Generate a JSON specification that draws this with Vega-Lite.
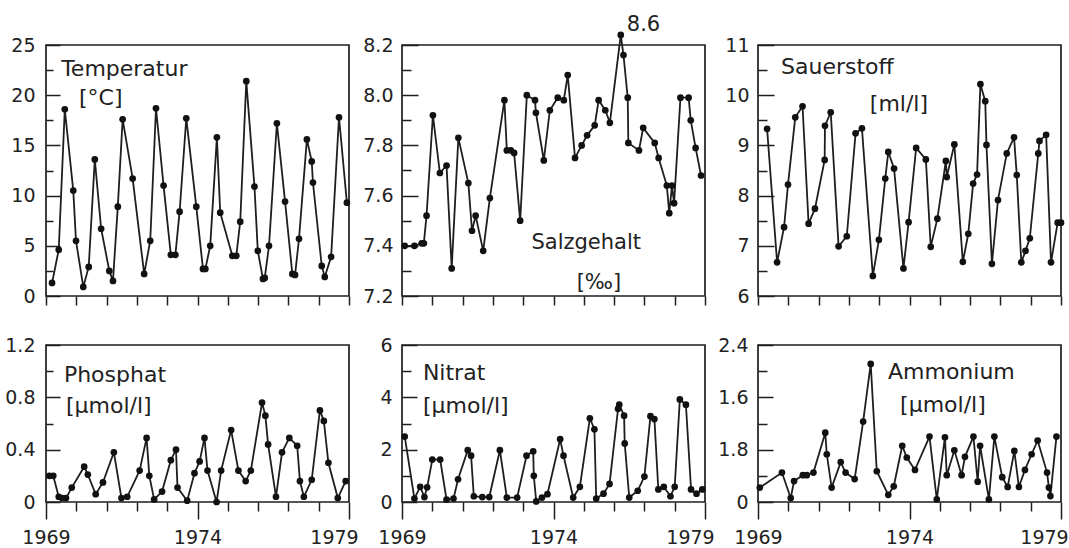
{
  "$schema": "https://vega.github.io/schema/vega-lite/v6.json",
  "background": "white",
  "padding": {"left": 3, "top": 13, "right": 0, "bottom": 0},
  "bounds": "flush",
  "spacing": {"row": 49, "column": 53},
  "columns": 3,
  "config": {
    "font": "DejaVu Sans",
    "view": {"stroke": "#1e1e1e", "strokeWidth": 1.7},
    "axis": {"labelFont": "DejaVu Sans", "labelFontSize": 19, "labelColor": "#222", "ticks": true, "tickColor": "#1e1e1e", "tickWidth": 1.5, "tickOpacity": 1, "domain": false, "grid": false, "title": null, "labelOverlap": false, "labelFlush": false},
    "line": {"color": "#1e1e1e", "strokeWidth": 1.8},
    "point": {"color": "#111", "filled": true, "size": 45, "opacity": 1},
    "text": {"font": "DejaVu Sans", "fontSize": 22, "color": "#222"}
  },
  "datasets": {
    "temp": [
      {"year": 1969.20, "value": 1.3}, {"year": 1969.42, "value": 4.6}, {"year": 1969.62, "value": 18.6}, {"year": 1969.90, "value": 10.5}, {"year": 1969.99, "value": 5.5},
      {"year": 1970.23, "value": 0.9}, {"year": 1970.41, "value": 2.9}, {"year": 1970.61, "value": 13.6}, {"year": 1970.82, "value": 6.7}, {"year": 1971.09, "value": 2.5},
      {"year": 1971.21, "value": 1.5}, {"year": 1971.37, "value": 8.9}, {"year": 1971.53, "value": 17.6}, {"year": 1971.86, "value": 11.7}, {"year": 1972.24, "value": 2.2},
      {"year": 1972.44, "value": 5.5}, {"year": 1972.63, "value": 18.7}, {"year": 1972.88, "value": 11.0}, {"year": 1973.12, "value": 4.1}, {"year": 1973.27, "value": 4.1},
      {"year": 1973.41, "value": 8.4}, {"year": 1973.63, "value": 17.7}, {"year": 1973.96, "value": 8.9}, {"year": 1974.18, "value": 2.7}, {"year": 1974.26, "value": 2.7},
      {"year": 1974.42, "value": 5.0}, {"year": 1974.64, "value": 15.8}, {"year": 1974.75, "value": 8.3}, {"year": 1975.15, "value": 4.0}, {"year": 1975.28, "value": 4.0},
      {"year": 1975.41, "value": 7.4}, {"year": 1975.61, "value": 21.4}, {"year": 1975.88, "value": 10.9}, {"year": 1975.99, "value": 4.5}, {"year": 1976.16, "value": 1.7},
      {"year": 1976.22, "value": 1.8}, {"year": 1976.36, "value": 5.0}, {"year": 1976.62, "value": 17.2}, {"year": 1976.89, "value": 9.4}, {"year": 1977.13, "value": 2.2},
      {"year": 1977.22, "value": 2.1}, {"year": 1977.35, "value": 5.7}, {"year": 1977.61, "value": 15.6}, {"year": 1977.77, "value": 13.4}, {"year": 1977.81, "value": 11.3},
      {"year": 1978.10, "value": 3.0}, {"year": 1978.20, "value": 1.9}, {"year": 1978.41, "value": 3.9}, {"year": 1978.67, "value": 17.8}, {"year": 1978.93, "value": 9.3}
    ],
    "salz": [
      {"year": 1969.09, "value": 7.40}, {"year": 1969.41, "value": 7.40}, {"year": 1969.65, "value": 7.41}, {"year": 1969.72, "value": 7.41}, {"year": 1969.81, "value": 7.52},
      {"year": 1970.02, "value": 7.92}, {"year": 1970.25, "value": 7.69}, {"year": 1970.47, "value": 7.72}, {"year": 1970.64, "value": 7.31}, {"year": 1970.86, "value": 7.83},
      {"year": 1971.19, "value": 7.65}, {"year": 1971.31, "value": 7.46}, {"year": 1971.43, "value": 7.52}, {"year": 1971.68, "value": 7.38}, {"year": 1971.90, "value": 7.59},
      {"year": 1972.38, "value": 7.98}, {"year": 1972.46, "value": 7.78}, {"year": 1972.59, "value": 7.78}, {"year": 1972.70, "value": 7.77}, {"year": 1972.90, "value": 7.50},
      {"year": 1973.12, "value": 8.00}, {"year": 1973.39, "value": 7.98}, {"year": 1973.42, "value": 7.93}, {"year": 1973.68, "value": 7.74}, {"year": 1973.88, "value": 7.94},
      {"year": 1974.14, "value": 7.99}, {"year": 1974.34, "value": 7.98}, {"year": 1974.47, "value": 8.08}, {"year": 1974.71, "value": 7.75}, {"year": 1974.93, "value": 7.80},
      {"year": 1975.11, "value": 7.84}, {"year": 1975.36, "value": 7.88}, {"year": 1975.49, "value": 7.98}, {"year": 1975.71, "value": 7.94}, {"year": 1975.86, "value": 7.89},
      {"year": 1976.22, "value": 8.24}, {"year": 1976.31, "value": 8.16}, {"year": 1976.45, "value": 7.99}, {"year": 1976.47, "value": 7.81}, {"year": 1976.82, "value": 7.78},
      {"year": 1976.96, "value": 7.87}, {"year": 1977.34, "value": 7.81}, {"year": 1977.47, "value": 7.75}, {"year": 1977.74, "value": 7.64}, {"year": 1977.82, "value": 7.53},
      {"year": 1977.91, "value": 7.64}, {"year": 1977.98, "value": 7.57}, {"year": 1978.19, "value": 7.99}, {"year": 1978.46, "value": 7.99}, {"year": 1978.53, "value": 7.90},
      {"year": 1978.69, "value": 7.79}, {"year": 1978.87, "value": 7.68}
    ],
    "o2": [
      {"year": 1969.30, "value": 9.33}, {"year": 1969.63, "value": 6.67}, {"year": 1969.86, "value": 7.37}, {"year": 1969.99, "value": 8.22}, {"year": 1970.23, "value": 9.56},
      {"year": 1970.47, "value": 9.78}, {"year": 1970.67, "value": 7.44}, {"year": 1970.88, "value": 7.74}, {"year": 1971.20, "value": 8.71}, {"year": 1971.21, "value": 9.39},
      {"year": 1971.40, "value": 9.66}, {"year": 1971.66, "value": 6.99}, {"year": 1971.93, "value": 7.19}, {"year": 1972.22, "value": 9.24}, {"year": 1972.43, "value": 9.34},
      {"year": 1972.79, "value": 6.40}, {"year": 1972.99, "value": 7.12}, {"year": 1973.20, "value": 8.34}, {"year": 1973.30, "value": 8.87}, {"year": 1973.49, "value": 8.54},
      {"year": 1973.80, "value": 6.55}, {"year": 1973.97, "value": 7.47}, {"year": 1974.22, "value": 8.95}, {"year": 1974.54, "value": 8.72}, {"year": 1974.70, "value": 6.98},
      {"year": 1974.92, "value": 7.54}, {"year": 1975.20, "value": 8.69}, {"year": 1975.23, "value": 8.37}, {"year": 1975.48, "value": 9.02}, {"year": 1975.76, "value": 6.68},
      {"year": 1975.94, "value": 7.24}, {"year": 1976.10, "value": 8.24}, {"year": 1976.23, "value": 8.42}, {"year": 1976.34, "value": 10.22}, {"year": 1976.50, "value": 9.88},
      {"year": 1976.54, "value": 9.01}, {"year": 1976.72, "value": 6.64}, {"year": 1976.92, "value": 7.91}, {"year": 1977.21, "value": 8.84}, {"year": 1977.45, "value": 9.16},
      {"year": 1977.54, "value": 8.41}, {"year": 1977.69, "value": 6.67}, {"year": 1977.83, "value": 6.90}, {"year": 1977.97, "value": 7.15}, {"year": 1978.25, "value": 8.84},
      {"year": 1978.29, "value": 9.09}, {"year": 1978.51, "value": 9.21}, {"year": 1978.67, "value": 6.67}, {"year": 1978.89, "value": 7.46}, {"year": 1979.0, "value": 7.46}
    ],
    "po4": [
      {"year": 1969.11, "value": 0.20}, {"year": 1969.24, "value": 0.20}, {"year": 1969.42, "value": 0.04}, {"year": 1969.53, "value": 0.03}, {"year": 1969.66, "value": 0.03},
      {"year": 1969.85, "value": 0.11}, {"year": 1970.26, "value": 0.27}, {"year": 1970.38, "value": 0.21}, {"year": 1970.64, "value": 0.06}, {"year": 1970.88, "value": 0.15},
      {"year": 1971.24, "value": 0.38}, {"year": 1971.49, "value": 0.03}, {"year": 1971.68, "value": 0.04}, {"year": 1972.09, "value": 0.24}, {"year": 1972.32, "value": 0.49},
      {"year": 1972.41, "value": 0.20}, {"year": 1972.57, "value": 0.02}, {"year": 1972.83, "value": 0.08}, {"year": 1973.12, "value": 0.32}, {"year": 1973.29, "value": 0.40},
      {"year": 1973.34, "value": 0.11}, {"year": 1973.66, "value": 0.01}, {"year": 1973.90, "value": 0.22}, {"year": 1974.07, "value": 0.31}, {"year": 1974.23, "value": 0.49},
      {"year": 1974.33, "value": 0.24}, {"year": 1974.63, "value": 0.00}, {"year": 1974.78, "value": 0.24}, {"year": 1975.11, "value": 0.55}, {"year": 1975.35, "value": 0.24},
      {"year": 1975.59, "value": 0.16}, {"year": 1975.76, "value": 0.24}, {"year": 1976.13, "value": 0.76}, {"year": 1976.24, "value": 0.66}, {"year": 1976.33, "value": 0.44},
      {"year": 1976.59, "value": 0.04}, {"year": 1976.79, "value": 0.38}, {"year": 1977.03, "value": 0.49}, {"year": 1977.29, "value": 0.43}, {"year": 1977.38, "value": 0.16},
      {"year": 1977.51, "value": 0.04}, {"year": 1977.77, "value": 0.17}, {"year": 1978.04, "value": 0.70}, {"year": 1978.17, "value": 0.62}, {"year": 1978.32, "value": 0.30},
      {"year": 1978.63, "value": 0.03}, {"year": 1978.89, "value": 0.16}
    ],
    "no3": [
      {"year": 1969.09, "value": 2.50}, {"year": 1969.41, "value": 0.13}, {"year": 1969.60, "value": 0.58}, {"year": 1969.74, "value": 0.19}, {"year": 1969.83, "value": 0.56},
      {"year": 1970.00, "value": 1.62}, {"year": 1970.26, "value": 1.62}, {"year": 1970.47, "value": 0.09}, {"year": 1970.70, "value": 0.13}, {"year": 1970.85, "value": 0.87},
      {"year": 1971.17, "value": 1.98}, {"year": 1971.28, "value": 1.77}, {"year": 1971.37, "value": 0.22}, {"year": 1971.65, "value": 0.19}, {"year": 1971.88, "value": 0.19},
      {"year": 1972.23, "value": 1.98}, {"year": 1972.46, "value": 0.17}, {"year": 1972.80, "value": 0.17}, {"year": 1973.11, "value": 1.77}, {"year": 1973.33, "value": 1.94},
      {"year": 1973.35, "value": 1.00}, {"year": 1973.43, "value": 0.02}, {"year": 1973.62, "value": 0.17}, {"year": 1973.80, "value": 0.30}, {"year": 1974.22, "value": 2.40},
      {"year": 1974.33, "value": 1.77}, {"year": 1974.65, "value": 0.17}, {"year": 1974.87, "value": 0.58}, {"year": 1975.20, "value": 3.20}, {"year": 1975.35, "value": 2.78},
      {"year": 1975.41, "value": 0.13}, {"year": 1975.65, "value": 0.32}, {"year": 1975.85, "value": 0.69}, {"year": 1976.13, "value": 3.56}, {"year": 1976.17, "value": 3.72},
      {"year": 1976.33, "value": 3.30}, {"year": 1976.35, "value": 2.24}, {"year": 1976.50, "value": 0.17}, {"year": 1976.78, "value": 0.43}, {"year": 1977.00, "value": 0.97},
      {"year": 1977.20, "value": 3.28}, {"year": 1977.33, "value": 3.17}, {"year": 1977.46, "value": 0.48}, {"year": 1977.64, "value": 0.58}, {"year": 1977.86, "value": 0.22},
      {"year": 1978.00, "value": 0.58}, {"year": 1978.17, "value": 3.92}, {"year": 1978.37, "value": 3.72}, {"year": 1978.54, "value": 0.48}, {"year": 1978.72, "value": 0.32},
      {"year": 1978.91, "value": 0.48}
    ],
    "nh4": [
      {"year": 1969.06, "value": 0.22}, {"year": 1969.79, "value": 0.45}, {"year": 1970.08, "value": 0.06}, {"year": 1970.19, "value": 0.32}, {"year": 1970.48, "value": 0.41},
      {"year": 1970.61, "value": 0.41}, {"year": 1970.83, "value": 0.45}, {"year": 1971.22, "value": 1.06}, {"year": 1971.27, "value": 0.73}, {"year": 1971.43, "value": 0.22},
      {"year": 1971.73, "value": 0.61}, {"year": 1971.89, "value": 0.45}, {"year": 1972.19, "value": 0.35}, {"year": 1972.47, "value": 1.23}, {"year": 1972.72, "value": 2.11},
      {"year": 1972.92, "value": 0.47}, {"year": 1973.30, "value": 0.11}, {"year": 1973.48, "value": 0.24}, {"year": 1973.76, "value": 0.86}, {"year": 1973.91, "value": 0.68},
      {"year": 1974.18, "value": 0.49}, {"year": 1974.66, "value": 1.00}, {"year": 1974.90, "value": 0.04}, {"year": 1975.17, "value": 0.99}, {"year": 1975.23, "value": 0.41},
      {"year": 1975.48, "value": 0.79}, {"year": 1975.72, "value": 0.41}, {"year": 1975.83, "value": 0.69}, {"year": 1976.11, "value": 1.00}, {"year": 1976.25, "value": 0.31},
      {"year": 1976.33, "value": 0.86}, {"year": 1976.62, "value": 0.04}, {"year": 1976.80, "value": 1.00}, {"year": 1977.06, "value": 0.38}, {"year": 1977.24, "value": 0.23},
      {"year": 1977.46, "value": 0.78}, {"year": 1977.61, "value": 0.23}, {"year": 1977.81, "value": 0.49}, {"year": 1978.03, "value": 0.73}, {"year": 1978.23, "value": 0.94},
      {"year": 1978.54, "value": 0.45}, {"year": 1978.60, "value": 0.22}, {"year": 1978.65, "value": 0.09}, {"year": 1978.85, "value": 1.00}
    ],
    "labels": [
      {"panel": "temp", "year": 1969.50, "value": 22.6, "text": "Temperatur"},
      {"panel": "temp", "year": 1970.09, "value": 19.7, "text": "[°C]"},
      {"panel": "salz", "year": 1975.08, "value": 7.41, "text": "Salzgehalt"},
      {"panel": "salz", "year": 1975.50, "value": 7.25, "text": "[‰]"},
      {"panel": "salz", "year": 1976.97, "value": 8.28, "text": "8.6"},
      {"panel": "o2", "year": 1969.76, "value": 10.56, "text": "Sauerstoff"},
      {"panel": "o2", "year": 1972.69, "value": 9.82, "text": "[ml/l]"},
      {"panel": "po4", "year": 1969.59, "value": 0.97, "text": "Phosphat"},
      {"panel": "po4", "year": 1969.66, "value": 0.73, "text": "[µmol/l]"},
      {"panel": "no3", "year": 1969.69, "value": 4.93, "text": "Nitrat"},
      {"panel": "no3", "year": 1969.69, "value": 3.67, "text": "[µmol/l]"},
      {"panel": "nh4", "year": 1973.29, "value": 1.99, "text": "Ammonium"},
      {"panel": "nh4", "year": 1973.69, "value": 1.48, "text": "[µmol/l]"}
    ]
  },
  "concat": [
    {
      "width": 303, "height": 251,
      "encoding": {
        "x": {"field": "year", "type": "quantitative", "scale": {"domain": [1969, 1979], "nice": false, "zero": false},
              "axis": {"values": [1969,1970,1971,1972,1973,1974,1975,1976,1977,1978,1979], "labels": false, "tickSize": 9}},
        "y": {"field": "value", "type": "quantitative", "scale": {"domain": [0, 25], "nice": false, "zero": false},
              "axis": {"values": [0,2.5,5,7.5,10,12.5,15,17.5,20,22.5,25], "labelExpr": "datum.value % 5 == 0 ? datum.label : ''",
                       "tickSize": {"condition": {"test": "datum.value % 5 == 0", "value": -14}, "value": -7}, "labelPadding": 25}}
      },
      "layer": [
        {"data": {"name": "temp"}, "mark": {"type": "line"}},
        {"data": {"name": "temp"}, "mark": {"type": "point"}},
        {"data": {"name": "labels"}, "transform": [{"filter": "datum.panel == 'temp'"}], "mark": {"type": "text", "align": "left", "baseline": "middle"}, "encoding": {"text": {"field": "text"}}}
      ]
    },
    {
      "width": 303, "height": 251,
      "encoding": {
        "x": {"field": "year", "type": "quantitative", "scale": {"domain": [1969, 1979], "nice": false, "zero": false},
              "axis": {"values": [1969,1970,1971,1972,1973,1974,1975,1976,1977,1978,1979], "labels": false, "tickSize": 9}},
        "y": {"field": "value", "type": "quantitative", "scale": {"domain": [7.2, 8.2], "nice": false, "zero": false},
              "axis": {"values": [7.2,7.3,7.4,7.5,7.6,7.7,7.8,7.9,8.0,8.1,8.2], "labelExpr": "round(datum.value*10) % 2 == 0 ? format(datum.value, '.1f') : ''",
                       "tickSize": {"condition": {"test": "round(datum.value*10) % 2 == 0", "value": -16}, "value": -9}, "labelPadding": 25}}
      },
      "layer": [
        {"data": {"name": "salz"}, "mark": {"type": "line"}},
        {"data": {"name": "salz"}, "mark": {"type": "point"}},
        {"data": {"name": "labels"}, "transform": [{"filter": "datum.panel == 'salz'"}], "mark": {"type": "text", "align": "center", "baseline": "middle", "fontSize": 21}, "encoding": {"text": {"field": "text"}}}
      ]
    },
    {
      "width": 303, "height": 251,
      "encoding": {
        "x": {"field": "year", "type": "quantitative", "scale": {"domain": [1969, 1979], "nice": false, "zero": false},
              "axis": {"values": [1969,1970,1971,1972,1973,1974,1975,1976,1977,1978,1979], "labels": false, "tickSize": 9}},
        "y": {"field": "value", "type": "quantitative", "scale": {"domain": [6, 11], "nice": false, "zero": false},
              "axis": {"values": [6,6.5,7,7.5,8,8.5,9,9.5,10,10.5,11], "labelExpr": "datum.value % 1 == 0 ? format(datum.value, 'd') : ''",
                       "tickSize": {"condition": {"test": "datum.value % 1 == 0", "value": -16}, "value": -9}, "labelPadding": 25}}
      },
      "layer": [
        {"data": {"name": "o2"}, "mark": {"type": "line"}},
        {"data": {"name": "o2"}, "mark": {"type": "point"}},
        {"data": {"name": "labels"}, "transform": [{"filter": "datum.panel == 'o2'"}], "mark": {"type": "text", "align": "left", "baseline": "middle"}, "encoding": {"text": {"field": "text"}}}
      ]
    },
    {
      "width": 303, "height": 157,
      "encoding": {
        "x": {"field": "year", "type": "quantitative", "scale": {"domain": [1969, 1979], "nice": false, "zero": false},
              "axis": {"values": [1969,1970,1971,1972,1973,1974,1975,1976,1977,1978,1979], "format": "d",
                       "labelExpr": "datum.value == 1969 || datum.value == 1974 || datum.value == 1979 ? datum.label : ''",
                       "tickSize": {"condition": {"test": "datum.value == 1969 || datum.value == 1974 || datum.value == 1979", "value": 17}, "value": 9},
                       "labelOffset": {"condition": {"test": "datum.value == 1979", "value": -15}, "value": 0},
                       "labelPadding": 9}},
        "y": {"field": "value", "type": "quantitative", "scale": {"domain": [0, 1.2], "nice": false, "zero": false},
              "axis": {"values": [0,0.2,0.4,0.6,0.8,1.0,1.2], "labelExpr": "round(datum.value*10) % 4 == 0 ? (datum.value == 0 ? '0' : format(datum.value, '.1f')) : ''",
                       "tickSize": {"condition": {"test": "round(datum.value*10) % 4 == 0", "value": -14}, "value": -7}, "labelPadding": 25}}
      },
      "layer": [
        {"data": {"name": "po4"}, "mark": {"type": "line"}},
        {"data": {"name": "po4"}, "mark": {"type": "point"}},
        {"data": {"name": "labels"}, "transform": [{"filter": "datum.panel == 'po4'"}], "mark": {"type": "text", "align": "left", "baseline": "middle"}, "encoding": {"text": {"field": "text"}}}
      ]
    },
    {
      "width": 303, "height": 157,
      "encoding": {
        "x": {"field": "year", "type": "quantitative", "scale": {"domain": [1969, 1979], "nice": false, "zero": false},
              "axis": {"values": [1969,1970,1971,1972,1973,1974,1975,1976,1977,1978,1979], "format": "d",
                       "labelExpr": "datum.value == 1969 || datum.value == 1974 || datum.value == 1979 ? datum.label : ''",
                       "tickSize": {"condition": {"test": "datum.value == 1969 || datum.value == 1974 || datum.value == 1979", "value": 17}, "value": 9},
                       "labelOffset": {"condition": {"test": "datum.value == 1979", "value": -15}, "value": 0},
                       "labelPadding": 9}},
        "y": {"field": "value", "type": "quantitative", "scale": {"domain": [0, 6], "nice": false, "zero": false},
              "axis": {"values": [0,1,2,3,4,5,6], "labelExpr": "datum.value % 2 == 0 ? datum.label : ''",
                       "tickSize": {"condition": {"test": "datum.value % 2 == 0", "value": -15}, "value": -9}, "labelPadding": 25}}
      },
      "layer": [
        {"data": {"name": "no3"}, "mark": {"type": "line"}},
        {"data": {"name": "no3"}, "mark": {"type": "point"}},
        {"data": {"name": "labels"}, "transform": [{"filter": "datum.panel == 'no3'"}], "mark": {"type": "text", "align": "left", "baseline": "middle"}, "encoding": {"text": {"field": "text"}}}
      ]
    },
    {
      "width": 303, "height": 157,
      "encoding": {
        "x": {"field": "year", "type": "quantitative", "scale": {"domain": [1969, 1979], "nice": false, "zero": false},
              "axis": {"values": [1969,1970,1971,1972,1973,1974,1975,1976,1977,1978,1979], "format": "d",
                       "labelExpr": "datum.value == 1969 || datum.value == 1974 || datum.value == 1979 ? datum.label : ''",
                       "tickSize": {"condition": {"test": "datum.value == 1969 || datum.value == 1974 || datum.value == 1979", "value": 17}, "value": 9},
                       "labelOffset": {"condition": {"test": "datum.value == 1979", "value": -17}, "value": 0},
                       "labelPadding": 9}},
        "y": {"field": "value", "type": "quantitative", "scale": {"domain": [0, 2.4], "nice": false, "zero": false},
              "axis": {"values": [0,0.4,0.8,1.2,1.6,2.0,2.4], "labelExpr": "round(datum.value*10) % 8 == 0 ? (datum.value == 0 ? '0' : datum.value == 0.8 ? '1.8' : format(datum.value, '.1f')) : ''",
                       "tickSize": {"condition": {"test": "round(datum.value*10) % 8 == 0", "value": -15}, "value": -9}, "labelPadding": 25}}
      },
      "layer": [
        {"data": {"name": "nh4"}, "mark": {"type": "line"}},
        {"data": {"name": "nh4"}, "mark": {"type": "point"}},
        {"data": {"name": "labels"}, "transform": [{"filter": "datum.panel == 'nh4'"}], "mark": {"type": "text", "align": "left", "baseline": "middle"}, "encoding": {"text": {"field": "text"}}}
      ]
    }
  ]
}
